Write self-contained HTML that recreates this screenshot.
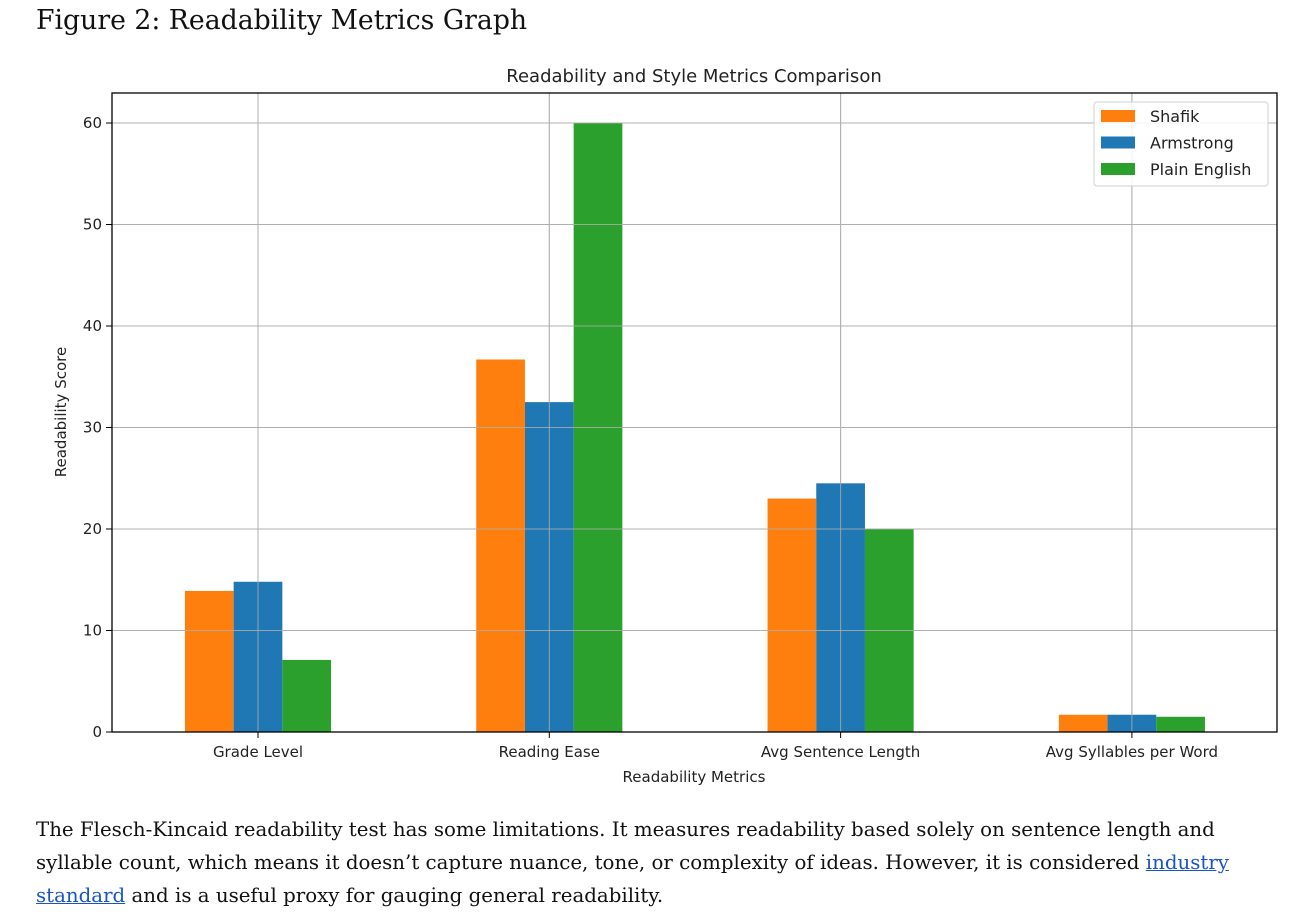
<!DOCTYPE html>
<html><head><meta charset="utf-8">
<style>
body{margin:0;background:#fff;width:1310px;height:924px;overflow:hidden;font-family:"DejaVu Sans",sans-serif;}
h1{position:absolute;left:36px;top:5px;margin:0;font:400 26.7px "DejaVu Serif",serif;color:#111;white-space:nowrap;}
p{position:absolute;left:36px;top:813px;margin:0;font:19.8px/33px "DejaVu Serif",serif;color:#111;white-space:nowrap;}
a{color:#1a55c8;}
svg{position:absolute;left:0;top:0;}
</style></head><body>
<h1>Figure 2: Readability Metrics Graph</h1>
<svg id="c" width="1310" height="800"></svg>
<p>The Flesch-Kincaid readability test has some limitations. It measures readability based solely on sentence length and<br>syllable count, which means it doesn’t capture nuance, tone, or complexity of ideas. However, it is considered <a href="#">industry<br>standard</a> and is a useful proxy for gauging general readability.</p>
<script>
const categories=["Grade Level","Reading Ease","Avg Sentence Length","Avg Syllables per Word"];
const seriesNames=["Shafik","Armstrong","Plain English"];
const shafik=[13.9,36.7,23.0,1.7];
const armstrong=[14.8,32.5,24.5,1.7];
const plainEnglish=[7.1,60.0,20.0,1.5];
const yTicks=[0,10,20,30,40,50,60];
const colors=["#ff7f0e","#1f77b4","#2ca02c"];
const series=[shafik,armstrong,plainEnglish];
const L=112,R=1277,T=93,B=732;
const y=v=>B-v*10.15;
const groupW=291.3,x0=258;
const xc=i=>x0+i*groupW;
const bw=48.7;
const svg=document.getElementById('c');
const NS="http://www.w3.org/2000/svg";
function mk(t,a,txt){const e=document.createElementNS(NS,t);for(const k in a)e.setAttribute(k,a[k]);if(txt!=null)e.textContent=txt;svg.appendChild(e);return e;}
yTicks.forEach(v=>{const g=mk('line',{x1:L,x2:R,y1:y(v),y2:y(v),stroke:'#b0b0b0','stroke-width':1});

});
categories.forEach((c,i)=>{const g=mk('line',{x1:xc(i),x2:xc(i),y1:T,y2:B,stroke:'#b0b0b0','stroke-width':1});

});
series.forEach((s,j)=>{s.forEach((v,i)=>{const r=mk('rect',{x:xc(i)+(j-1.5)*bw,y:y(v),width:bw,height:B-y(v),fill:colors[j]});

});});
categories.forEach((c,i)=>{const g=mk('line',{x1:xc(i),x2:xc(i),y1:T,y2:B,stroke:'#b0b0b0','stroke-width':1,opacity:0.8});

});
yTicks.forEach(v=>{const g=mk('line',{x1:L,x2:R,y1:y(v),y2:y(v),stroke:'#b0b0b0','stroke-width':1,opacity:0.8});

});
const fr=mk('rect',{x:L,y:T,width:R-L,height:B-T,fill:'none',stroke:'#000','stroke-width':1.3});


yTicks.forEach(v=>{mk('line',{x1:L-6,x2:L,y1:y(v),y2:y(v),stroke:'#000'});
const t=mk('text',{x:L-10,y:y(v)+5,'text-anchor':'end','font-size':15,fill:'#222'},v);

});
categories.forEach((c,i)=>{mk('line',{x1:xc(i),x2:xc(i),y1:B,y2:B+6,stroke:'#000'});
const t=mk('text',{x:xc(i),y:B+25,'text-anchor':'middle','font-size':15,fill:'#222'},c);

});
let t=mk('text',{x:694,y:82,'text-anchor':'middle','font-size':18,fill:'#222'},'Readability and Style Metrics Comparison');


t=mk('text',{x:694,y:782,'text-anchor':'middle','font-size':15,fill:'#222'},'Readability Metrics');


t=mk('text',{x:66,y:412,'text-anchor':'middle','font-size':15,fill:'#222',transform:'rotate(-90 66 412)'},'Readability Score');


const lg=mk('rect',{x:1094,y:102,width:174,height:84,rx:3,fill:'#fff','fill-opacity':0.85,stroke:'#d0d0d0'});


seriesNames.forEach((n,j)=>{const yy=110+j*26.5;
const s=mk('rect',{x:1101,y:yy,width:34,height:12,fill:colors[j]});


const tx=mk('text',{x:1150,y:yy+12,'font-size':16,fill:'#222'},n);

});
</script>
</body></html>
